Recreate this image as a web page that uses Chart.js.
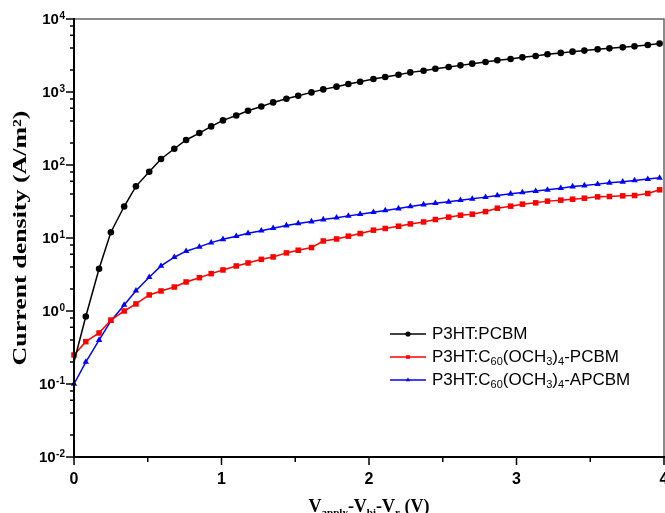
<!DOCTYPE html>
<html>
<head>
<meta charset="utf-8">
<script src="https://cdn.jsdelivr.net/npm/chart.js@4.4.1/dist/chart.umd.min.js"></script>
<style>
  html, body { margin: 0; padding: 0; background: #fff; }
  #wrap { width: 665px; height: 513px; }
</style>
</head>
<body>
<div id="wrap"><canvas id="jv" width="665" height="513"></canvas></div>
<script>
/* ── data ───────────────────────────────────────────────── */
const voltage = [0, 0.08, 0.17, 0.25, 0.34, 0.42, 0.51, 0.59, 0.68, 0.76, 0.85, 0.93,
  1.01, 1.10, 1.18, 1.27, 1.35, 1.44, 1.52, 1.61, 1.69, 1.78, 1.86, 1.94,
  2.03, 2.11, 2.20, 2.28, 2.37, 2.45, 2.54, 2.62, 2.70, 2.79, 2.87, 2.96,
  3.04, 3.13, 3.21, 3.30, 3.38, 3.46, 3.55, 3.63, 3.72, 3.80, 3.89, 3.97];

const pcbm = [0.2, 0.84, 3.8, 12, 27, 51, 81, 121, 167, 220, 274, 338,
  408, 477, 554, 633, 720, 809, 890, 988, 1086, 1183, 1288, 1384,
  1508, 1606, 1727, 1857, 1959, 2086, 2201, 2316, 2444, 2581, 2716, 2838,
  2985, 3120, 3283, 3430, 3573, 3690, 3840, 3965, 4092, 4220, 4414, 4600];

const c60Pcbm = [0.25, 0.38, 0.50, 0.75, 1.0, 1.25, 1.66, 1.88, 2.13, 2.5, 2.86, 3.25,
  3.65, 4.14, 4.55, 5.1, 5.5, 6.25, 6.8, 7.4, 9.1, 9.7, 10.6, 11.5,
  12.8, 13.5, 14.5, 15.6, 16.6, 17.9, 19.3, 20.5, 21.2, 23, 25.6, 27.3,
  29.1, 30.3, 32, 33, 34, 35.1, 36.6, 37, 37.8, 38.2, 40.7, 45.7];

const c60Apcbm = [0.1, 0.2, 0.4, 0.73, 1.21, 1.9, 2.9, 4.14, 5.45, 6.6, 7.55, 8.65,
  9.6, 10.6, 11.6, 12.6, 13.6, 14.8, 15.8, 16.8, 17.9, 19.0, 20.1, 21.2,
  22.6, 23.8, 25.3, 27, 28.7, 30, 31.3, 33, 34.4, 36.3, 38.2, 40.3,
  42, 43.9, 45.7, 48.2, 50.7, 52.3, 54.7, 57, 58.9, 61.3, 64.1, 66.7];

const xTicks     = [0, 1, 2, 3, 4];
const xMinor     = [0.5, 1.5, 2.5, 3.5];
const yExponents = [-2, -1, 0, 1, 2, 3, 4];
const yMinorMant = [2, 4, 6, 8];

/* legend labels: [text, isSubscript] */
const names = [
  [['P3HT:PCBM', 0]],
  [['P3HT:C', 0], ['60', 1], ['(OCH', 0], ['3', 1], [')', 0], ['4', 1], ['-PCBM', 0]],
  [['P3HT:C', 0], ['60', 1], ['(OCH', 0], ['3', 1], [')', 0], ['4', 1], ['-APCBM', 0]]
];
const yTitle = 'Current density (A/m²)';
const xTitle = [['V', 0], ['apply', 1], ['-V', 0], ['bi', 1], ['-V', 0], ['r', 1], [' (V)', 0]];

const pts = ys => voltage.map((x, i) => ({ x, y: ys[i] }));

/* ── helper: draw text runs with subscripts ─────────────── */
function runs (ctx, parts, x, y, big, small, family, weight, drop) {
  let cx = x;
  parts.forEach(([t, sub]) => {
    ctx.font = `${weight} ${sub ? small : big}px ${family}`;
    ctx.fillText(t, cx, sub ? y + drop : y);
    cx += ctx.measureText(t).width;
  });
  return cx - x;
}
function runsWidth (ctx, parts, big, small, family, weight) {
  let w = 0;
  parts.forEach(([t, sub]) => {
    ctx.font = `${weight} ${sub ? small : big}px ${family}`;
    w += ctx.measureText(t).width;
  });
  return w;
}

/* ── frame, ticks, custom labels, legend ───────────────── */
const decor = {
  id: 'decor',
  afterDatasetsDraw (chart) {
    const { ctx, chartArea: a, scales: { x, y } } = chart;
    ctx.save();
    ctx.strokeStyle = '#666'; ctx.lineWidth = 1.5;
    ctx.beginPath();
    ctx.moveTo(a.left, a.top); ctx.lineTo(a.right, a.top); ctx.lineTo(a.right, a.bottom);
    ctx.stroke();

    ctx.strokeStyle = '#000'; ctx.lineWidth = 2;
    ctx.beginPath();
    ctx.moveTo(a.left, a.top - 1); ctx.lineTo(a.left, a.bottom); ctx.lineTo(a.right + 1, a.bottom);
    ctx.stroke();

    ctx.lineWidth = 1.5;
    ctx.beginPath();
    yExponents.forEach(e => {
      const py = y.getPixelForValue(Math.pow(10, e));
      ctx.moveTo(a.left, py); ctx.lineTo(a.left - 8, py);
      if (e < yExponents[yExponents.length - 1]) {
        yMinorMant.forEach(m => {
          const q = y.getPixelForValue(m * Math.pow(10, e));
          ctx.moveTo(a.left, q); ctx.lineTo(a.left - 4, q);
        });
      }
    });
    xTicks.forEach(v => {
      const px = x.getPixelForValue(v);
      ctx.moveTo(px, a.bottom); ctx.lineTo(px, a.bottom + 8);
    });
    xMinor.forEach(v => {
      const px = x.getPixelForValue(v);
      ctx.moveTo(px, a.bottom); ctx.lineTo(px, a.bottom + 5);
    });
    ctx.stroke();

    /* y tick labels 10^n */
    ctx.fillStyle = '#000';
    ctx.textBaseline = 'middle';
    ctx.textAlign = 'right';
    yExponents.forEach(e => {
      const py = y.getPixelForValue(Math.pow(10, e));
      ctx.font = 'bold 10px "Liberation Sans", Arial, sans-serif';
      const ex = String(e);
      const ew = ctx.measureText(ex).width;
      ctx.fillText(ex, 65, py - 3);
      ctx.font = 'bold 15px "Liberation Sans", Arial, sans-serif';
      ctx.fillText('10', 65 - ew - 0.5, py + 1);
    });

    /* y title */
    ctx.save();
    ctx.translate(21, (a.top + a.bottom) / 2);
    ctx.rotate(-Math.PI / 2);
    ctx.font = 'bold 19px "Liberation Serif", "Times New Roman", serif';
    const tw = ctx.measureText(yTitle).width;
    ctx.scale(255 / tw, 1);
    ctx.textAlign = 'center';
    ctx.fillText(yTitle, 0, 0);
    ctx.restore();

    /* x title */
    ctx.textAlign = 'left';
    ctx.textBaseline = 'alphabetic';
    const fam = '"Liberation Serif", "Times New Roman", serif';
    const w = runsWidth(ctx, xTitle, 18, 11, fam, 'bold');
    runs(ctx, xTitle, (a.left + a.right) / 2 - w / 2, 512, 18, 11, fam, 'bold', 4);
    ctx.restore();
  },
  afterDraw (chart) {
    const { ctx } = chart;
    const rows = [334, 357, 380];
    ctx.save();
    chart.data.datasets.forEach((ds, i) => {
      const ry = rows[i];
      ctx.strokeStyle = ds.borderColor; ctx.lineWidth = 1.3;
      ctx.beginPath(); ctx.moveTo(390, ry); ctx.lineTo(426, ry); ctx.stroke();
      ctx.fillStyle = ds.borderColor;
      Chart.helpers.drawPoint(ctx, { pointStyle: ds.pointStyle, radius: 2.6, borderWidth: 0, rotation: 0 }, 408, ry);
      ctx.fillStyle = '#000';
      ctx.textBaseline = 'middle';
      runs(ctx, names[i], 432, ry, 17, 11, '"Liberation Sans", Arial, sans-serif', 'normal', 5);
    });
    ctx.restore();
  }
};

const common = { borderWidth: 1.5, showLine: true, tension: 0, clip: false, pointBorderWidth: 0 };

new Chart(document.getElementById('jv'), {
  type: 'line',
  data: {
    datasets: [
      { ...common, label: 'P3HT:PCBM', data: pts(pcbm), borderColor: '#000000',
        backgroundColor: '#000000', pointStyle: 'circle',
        pointRadius: ctx => ctx.dataIndex === 0 ? 0 : 3.3 },
      { ...common, label: 'P3HT:C60(OCH3)4-PCBM', data: pts(c60Pcbm), borderColor: '#ff0000',
        backgroundColor: '#ff0000', pointStyle: 'rect', pointRadius: 3.9 },
      { ...common, label: 'P3HT:C60(OCH3)4-APCBM', data: pts(c60Apcbm), borderColor: '#0000ff',
        backgroundColor: '#0000ff', pointStyle: 'triangle', pointRadius: 3.7 }
    ]
  },
  options: {
    responsive: false,
    animation: false,
    devicePixelRatio: 1,
    layout: { autoPadding: false, padding: { top: 19, right: 1, left: 0, bottom: 0 } },
    plugins: { legend: { display: false }, tooltip: { enabled: false } },
    elements: { point: { hoverRadius: 0 } },
    scales: {
      x: {
        type: 'linear', min: 0, max: 4,
        grid: { display: false, drawTicks: false },
        border: { display: false },
        afterFit: s => { s.height = 56; s.paddingLeft = 0; s.paddingRight = 0; },
        ticks: {
          stepSize: 1, color: '#000', padding: 13,
          font: { family: '"Liberation Sans", Arial, sans-serif', size: 16, weight: 'bold' }
        }
      },
      y: {
        type: 'logarithmic', min: 0.01, max: 10000,
        grid: { display: false, drawTicks: false },
        border: { display: false },
        afterFit: s => { s.width = 74; s.paddingTop = 0; s.paddingBottom = 0; },
        ticks: { display: false }
      }
    }
  },
  plugins: [decor]
});
</script>
</body>
</html>
